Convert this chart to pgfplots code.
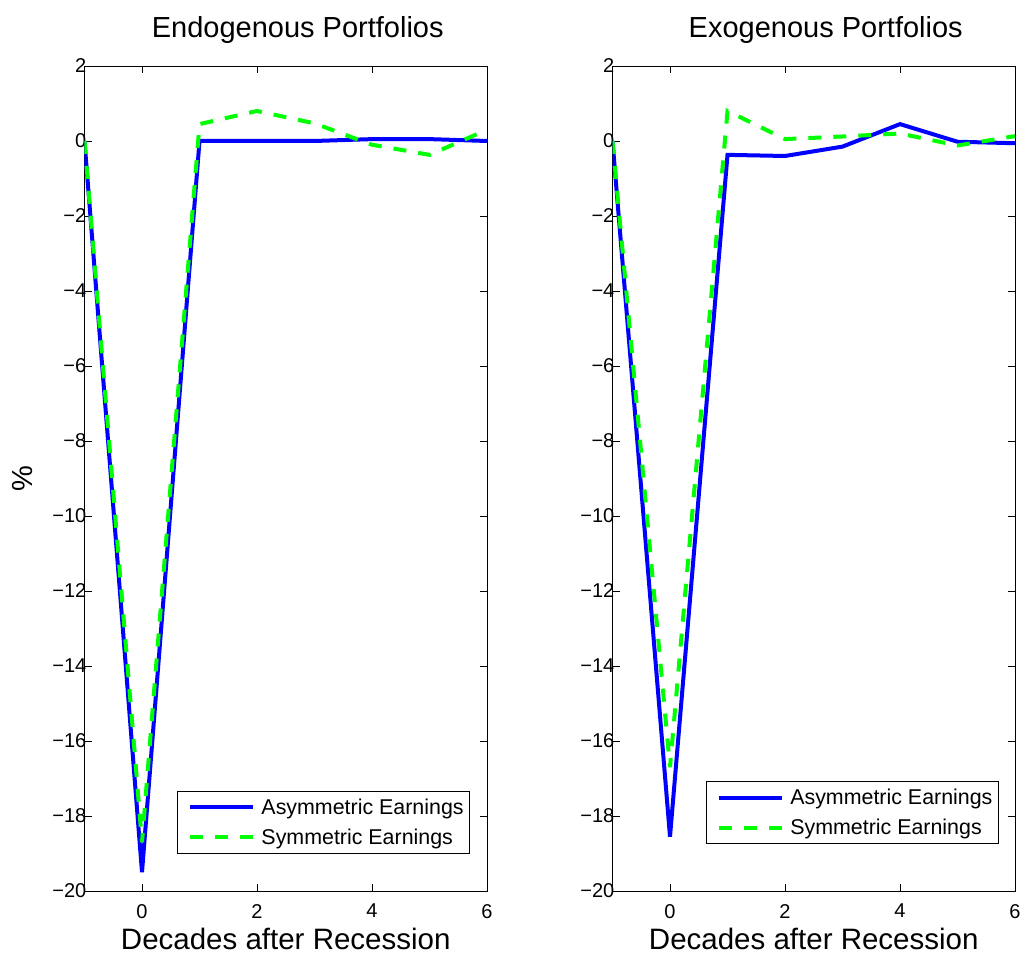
\documentclass[border=0pt]{standalone}
\usepackage{pgfplots}
\pgfplotsset{compat=1.18}
\usepackage{fontspec}
\setmainfont{Liberation Sans}
\definecolor{mblue}{RGB}{0,0,255}
\definecolor{mgreen}{RGB}{0,255,0}
\begin{document}
\begin{tikzpicture}
\path[use as bounding box] (0pt,0pt) rectangle (1022pt,955pt);
\pgfplotsset{
  every axis/.style={
    scale only axis, width=402.5pt, height=825pt,
    xmin=-1, xmax=6, ymin=-20, ymax=2,
    xtick={0,2,4,6}, ytick={-20,-18,...,2},
    yticklabels={−20,−18,−16,−14,−12,−10,−8,−6,−4,−2,0,2},
    tick align=inside, major tick length=7pt,
    tick style={black, line width=0.6pt},
    axis line style={line width=0.9pt},
    tick label style={font=\fontsize{20}{24}\selectfont},
    /pgf/number format/assume math mode=true,
    xticklabel style={inner sep=0pt, anchor=north, yshift=-13pt},
    yticklabel style={inner sep=0pt, anchor=east, xshift=2pt},
    title style={font=\fontsize{29}{34}\selectfont, at={(axis description cs:0.5,1)}, anchor=base, yshift=22pt, xshift=12pt},
    xlabel style={font=\fontsize{29.5}{34}\selectfont, at={(axis description cs:0.5,0)}, anchor=base, yshift=-59pt},
    legend style={font=\fontsize{21.4}{25}\selectfont, draw=black, line width=0.9pt,
      inner xsep=4pt, inner ysep=5.5pt, row sep=9pt, cells={anchor=west}},
    legend image code/.code={\path[draw=none,fill=none] (-9pt,0pt) rectangle (69pt,0pt);\draw[##1] (0pt,0pt) -- (63pt,0pt);},
  }
}
\begin{axis}[at={(84.5pt,64pt)}, anchor=south west,
  title={Endogenous Portfolios}, xlabel={Decades after Recession},
  ylabel={\%}, ylabel style={font=\fontsize{29}{34}\selectfont, at={(axis description cs:-0.155,0.5)}, anchor=center},
  legend style={at={(0.958,0.045)}, anchor=south east}]
\addplot[mblue, line width=4pt] coordinates {(-1,0) (0,-19.5) (1,0) (2,0) (3,0) (4,0.05) (5,0.05) (6,0)};
\addlegendentry{Asymmetric Earnings}
\addplot[mgreen, line width=4pt, dash pattern=on 13pt off 12pt] coordinates {(-1,0) (0,-18.7) (1,0.45) (2,0.8) (3,0.47) (4,-0.1) (5,-0.37) (6,0.3)};
\addlegendentry{Symmetric Earnings}
\end{axis}
\begin{axis}[at={(612.5pt,64pt)}, anchor=south west,
  title={Exogenous Portfolios}, xlabel={Decades after Recession},
  legend style={at={(0.96,0.057)}, anchor=south east}]
\addplot[mblue, line width=4pt] coordinates {(-1,0) (0,-18.55) (1,-0.37) (2,-0.4) (3,-0.15) (4,0.45) (5,-0.02) (6,-0.06)};
\addlegendentry{Asymmetric Earnings}
\addplot[mgreen, line width=4pt, dash pattern=on 13pt off 12pt] coordinates {(-1,0) (0,-16.7) (1,0.8) (2,0.05) (3,0.12) (4,0.2) (5,-0.12) (6,0.13)};
\addlegendentry{Symmetric Earnings}
\end{axis}
\end{tikzpicture}
\end{document}
